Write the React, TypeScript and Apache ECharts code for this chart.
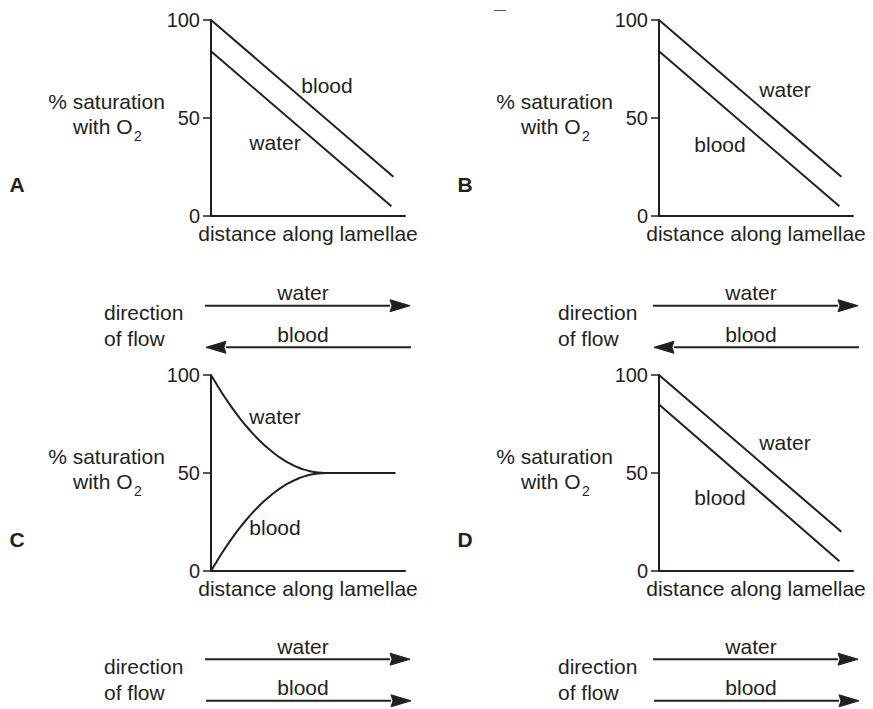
import React, { useEffect, useRef } from 'react';
import * as echarts from 'echarts';

// ---- data ----
const panelLetters = ['A', 'B', 'C', 'D'];
const yTicks = [0, 50, 100];

// straight-line panels: distance along lamellae (start, end)
const distUpper = [0, 94];
const distLower = [0, 93];
const bloodA = [100, 20];
const waterA = [84, 5];
const waterB = [100, 20];
const bloodB = [84, 5];
const waterD = [100, 20];
const bloodD = [85, 5];

// curved panel C
const distC = [0, 3, 6, 9, 12, 15, 18, 21, 24, 27, 30, 33, 36, 39, 42, 45, 48, 51, 54, 57, 59, 95];
const waterC = [100, 95.1, 90.3, 85.9, 81.7, 77.8, 74.1, 70.7, 67.6, 64.7, 62.1, 59.7, 57.6, 55.7, 54.2, 52.8, 51.7, 50.9, 50.4, 50.1, 50, 50];
const bloodC = [0, 4.9, 9.7, 14.1, 18.3, 22.2, 25.9, 29.3, 32.4, 35.3, 37.9, 40.3, 42.4, 44.3, 45.8, 47.2, 48.3, 49.1, 49.6, 49.9, 50, 50];

// flow directions per panel: 1 = left to right, -1 = right to left
const waterFlow = [1, 1, 1, 1];
const bloodFlow = [-1, -1, 1, 1];

const INK = '#231f20';
const FONT = '"Liberation Sans", Arial, Helvetica, sans-serif';
const FS = 21;
const FS_TICK = 20;

const zip = (xs: number[], ys: number[]) => xs.map((x, i) => [x, ys[i]]);

export default function App() {
  const ref = useRef<HTMLDivElement>(null);

  useEffect(() => {
    if (!ref.current) return;
    const chart = echarts.init(ref.current, undefined, { renderer: 'svg' });

    const offs = [
      { ox: 0, oy: 0 },
      { ox: 448, oy: 0 },
      { ox: 0, oy: 355 },
      { ox: 448, oy: 355 },
    ];

    const grids = offs.map((o) => ({
      left: 211 + o.ox,
      top: 20 + o.oy,
      width: 194,
      height: 196,
    }));

    const xAxes = offs.map((_, i) => ({
      type: 'value',
      gridIndex: i,
      min: 0,
      max: 100,
      axisLine: { show: true, onZero: false, lineStyle: { color: INK, width: 2 } },
      axisTick: { show: false },
      axisLabel: { show: false },
      splitLine: { show: false },
      name: 'distance along lamellae',
      nameLocation: 'middle',
      nameGap: 7,
      nameTextStyle: { color: INK, fontSize: FS, fontFamily: FONT, verticalAlign: 'top' },
    }));

    const yAxes = offs.map((_, i) => ({
      type: 'value',
      gridIndex: i,
      min: yTicks[0],
      max: yTicks[yTicks.length - 1],
      interval: yTicks[1] - yTicks[0],
      axisLine: { show: true, lineStyle: { color: INK, width: 2 } },
      axisTick: { show: true, length: 8, lineStyle: { color: INK, width: 1.5 } },
      axisLabel: { color: INK, fontSize: FS_TICK, fontFamily: FONT, margin: 11 },
      splitLine: { show: false },
    }));

    const lineSeries = (name: string, idx: number, data: number[][], smooth = false) => ({
      type: 'line',
      name,
      xAxisIndex: idx,
      yAxisIndex: idx,
      data,
      symbol: 'none',
      smooth: smooth ? 0.25 : false,
      lineStyle: { color: INK, width: 2 },
      silent: true,
    });

    const series = [
      lineSeries('blood', 0, zip(distUpper, bloodA)),
      lineSeries('water', 0, zip(distLower, waterA)),
      lineSeries('water', 1, zip(distUpper, waterB)),
      lineSeries('blood', 1, zip(distLower, bloodB)),
      lineSeries('water', 2, zip(distC, waterC), true),
      lineSeries('blood', 2, zip(distC, bloodC), true),
      lineSeries('water', 3, zip(distUpper, waterD)),
      lineSeries('blood', 3, zip(distLower, bloodD)),
    ];

    const txt = (text: string, x: number, y: number, opts: any = {}) => ({
      type: 'text',
      x,
      y,
      silent: true,
      style: {
        text,
        fill: INK,
        fontSize: opts.fontSize || FS,
        fontFamily: FONT,
        fontWeight: opts.fontWeight || 'normal',
        align: opts.align || 'center',
        verticalAlign: 'middle',
      },
    });

    const graphics: any[] = [];

    // series labels
    const seriesLabels = [
      [['blood', 327, 85], ['water', 275, 142]],
      [['water', 785, 89], ['blood', 720, 144]],
      [['water', 275, 416], ['blood', 275, 527]],
      [['water', 785, 442], ['blood', 720, 497]],
    ];

    offs.forEach((o, i) => {
      graphics.push(txt(panelLetters[i], 17 + o.ox, 184 + o.oy, { fontWeight: 'bold', fontSize: 21 }));
      graphics.push(txt('% saturation', 106.5 + o.ox, 101 + o.oy));
      graphics.push(txt('with O', 73 + o.ox, 126 + o.oy, { align: 'left' }));
      graphics.push(txt('2', 134 + o.ox, 136 + o.oy, { fontSize: 14, align: 'left' }));
      seriesLabels[i].forEach((l: any) => graphics.push(txt(l[0], l[1], l[2])));
    });

    // flow direction boxes
    const flowRows = [
      { oy: 0, ox: 0, tx: 0, idx: 0 },
      { oy: 0, ox: 448, tx: 454, idx: 1 },
      { oy: 353.5, ox: 0, tx: 0, idx: 2 },
      { oy: 353.5, ox: 448, tx: 454, idx: 3 },
    ];
    const arrow = (x1: number, x2: number, y: number, dir: number) => {
      const tip = dir > 0 ? x2 : x1;
      const tail = dir > 0 ? x1 : x2;
      const base = tip - dir * 20;
      return [
        {
          type: 'line',
          silent: true,
          shape: { x1: tail, y1: y, x2: base, y2: y },
          style: { stroke: INK, lineWidth: 2 },
        },
        {
          type: 'polygon',
          silent: true,
          shape: { points: [[tip, y], [base, y - 6], [base + dir * 2, y], [base, y + 6]] },
          style: { fill: INK, stroke: INK, lineWidth: 1 },
        },
      ];
    };
    flowRows.forEach((r) => {
      graphics.push(txt('direction', 104 + r.tx, 312.5 + r.oy, { align: 'left' }));
      graphics.push(txt('of flow', 104 + r.tx, 338.5 + r.oy, { align: 'left' }));
      graphics.push(txt('water', 303 + r.ox, 292.5 + r.oy));
      graphics.push(txt('blood', 303 + r.ox, 334 + r.oy));
      graphics.push(...arrow(205 + r.ox, 410 + r.ox, 305.7 + r.oy, waterFlow[r.idx]));
      graphics.push(...arrow(206 + r.ox, 411 + r.ox, 347.3 + r.oy, bloodFlow[r.idx]));
    });

    // small stray dash in the source image
    graphics.push({
      type: 'line',
      silent: true,
      shape: { x1: 494, y1: 10.5, x2: 506, y2: 10.5 },
      style: { stroke: '#555', lineWidth: 1 },
    });

    chart.setOption({
      animation: false,
      backgroundColor: '#ffffff',
      grid: grids,
      xAxis: xAxes,
      yAxis: yAxes,
      series,
      graphic: graphics,
    });

    return () => chart.dispose();
  }, []);

  return (
    <div
      ref={ref}
      style={{ position: 'fixed', left: 0, top: 0, width: 873, height: 709, background: '#fff' }}
    />
  );
}
